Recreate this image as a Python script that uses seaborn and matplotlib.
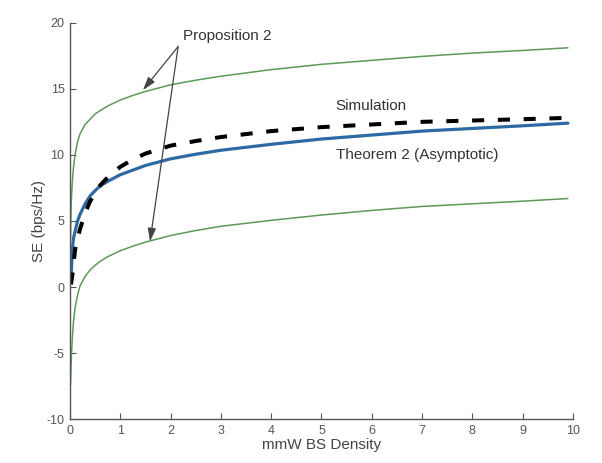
import numpy as np
import pandas as pd
import seaborn as sns
import matplotlib.pyplot as plt

# Değerler
x_bound = [0.01, 0.02, 0.03, 0.05, 0.07, 0.1, 0.15, 0.2, 0.3, 0.4, 0.5, 0.6, 0.75, 1,
           1.25, 1.5, 2, 2.5, 3, 4, 5, 6, 7, 8, 9, 9.9]
upper_bound = [3.5, 5.8, 6.9, 8.2, 9.1, 10.0, 11.0, 11.6, 12.3, 12.7, 13.1, 13.35, 13.7, 14.15,
               14.5, 14.8, 15.3, 15.65, 15.95, 16.45, 16.85, 17.15, 17.45, 17.7, 17.9, 18.1]
lower_bound = [-7.4, -6.0, -5.0, -3.6, -2.6, -1.6, -0.6, 0.1, 0.8, 1.3, 1.65, 1.95, 2.3, 2.75,
               3.1, 3.4, 3.9, 4.28, 4.6, 5.05, 5.45, 5.8, 6.1, 6.3, 6.5, 6.7]

x_main = [0.02, 0.03, 0.05, 0.07, 0.1, 0.15, 0.2, 0.3, 0.4, 0.5, 0.6, 0.75, 1,
          1.25, 1.5, 2, 2.5, 3, 4, 5, 6, 7, 8, 9, 9.9]
theorem = [0.5, 1.5, 3.0, 3.7, 4.2, 5.0, 5.5, 6.3, 6.9, 7.3, 7.65, 8.0, 8.5,
           8.85, 9.2, 9.7, 10.05, 10.35, 10.8, 11.2, 11.5, 11.8, 12.0, 12.2, 12.4]
simulation = [0.2, 0.5, 1.0, 1.8, 2.8, 3.7, 4.4, 5.6, 6.5, 7.1, 7.7, 8.3, 9.1,
              9.65, 10.1, 10.7, 11.05, 11.35, 11.8, 12.1, 12.3, 12.5, 12.6, 12.7, 12.8]

df_b = pd.DataFrame({"x": x_bound, "up": upper_bound, "low": lower_bound})
df_m = pd.DataFrame({"x": x_main, "thm": theorem, "sim": simulation})

sns.set_style("ticks")
plt.rcParams['font.family'] = ['Liberation Sans', 'DejaVu Sans']
plt.rcParams['axes.unicode_minus'] = False

fig = plt.figure(figsize=(6.02, 4.63), dpi=100)
ax = fig.add_axes([0.1163, 0.0944, 0.8355, 0.8566])

green = "#5b9a57"
sns.lineplot(data=df_b, x="x", y="up", ax=ax, color=green, lw=1.1)
sns.lineplot(data=df_b, x="x", y="low", ax=ax, color=green, lw=1.1)
sns.lineplot(data=df_m, x="x", y="thm", ax=ax, color="#2d6aa3", lw=2.3)
sns.lineplot(data=df_m, x="x", y="sim", ax=ax, color="black", lw=2.9,
             linestyle=(0, (3.0, 3.4)))

ax.set_xlim(0, 10)
ax.set_ylim(-10, 20)
ax.set_xticks(range(0, 11))
ax.set_yticks(range(-10, 21, 5))
sns.despine(ax=ax)
for s in ["left", "bottom"]:
    ax.spines[s].set_color("#555555")
    ax.spines[s].set_linewidth(1.0)
ax.tick_params(direction="in", length=4, width=0.8, color="#555555",
               labelsize=9, labelcolor="#555555", pad=4)

ax.set_xlabel("mmW BS Density", fontsize=11, color="#444444", labelpad=1)
ax.set_ylabel("SE (bps/Hz)", fontsize=11, color="#444444", labelpad=0)

# Açıklamalar
txt_kw = dict(fontsize=11, color="#333333")
ax.text(3.12, 19.0, "Proposition 2", ha="center", va="center", **txt_kw)
ax.text(5.28, 13.7, "Simulation", ha="left", va="center", **txt_kw)
ax.text(5.28, 9.96, "Theorem 2 (Asymptotic)", ha="left", va="center", **txt_kw)

arrow = dict(arrowstyle="-|>,head_length=0.8,head_width=0.25", color="#444444", lw=0.9,
             shrinkA=0, shrinkB=0)
ax.annotate("", xy=(1.45, 14.9), xytext=(2.15, 18.2), arrowprops=arrow)
ax.annotate("", xy=(1.59, 3.45), xytext=(2.15, 18.2), arrowprops=arrow)

fig.savefig("out.png", dpi=100)
